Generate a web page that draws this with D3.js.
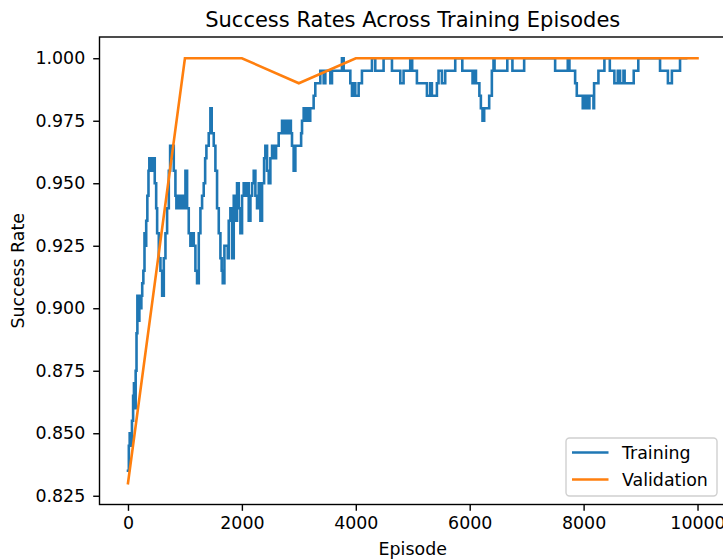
<!DOCTYPE html>
<html>
<head>
<meta charset="utf-8">
<script src="https://cdn.jsdelivr.net/npm/d3@7"></script>
<style>
  html, body { margin: 0; padding: 0; background: #fff; }
  svg { display: block; font-family: "DejaVu Sans", sans-serif; }
</style>
</head>
<body>
<svg id="chart" width="723" height="560"></svg>
<script>
// Training success rate (rolling) — step breakpoints: episode, rate
const trainEpisodes = [
  0, 15, 30, 50, 70, 90, 105, 120, 135, 150, 165, 185, 200, 215, 235, 250, 270, 290, 305, 320,
  340, 360, 375, 395, 410, 430, 450, 470, 495, 512, 541, 570, 600, 629, 658, 687, 717, 740, 758, 780,
  804, 833, 850, 870, 890, 910, 930, 950, 980, 1009, 1038, 1067, 1096, 1130, 1155, 1184, 1213, 1243, 1272, 1301,
  1330, 1355, 1377, 1418, 1447, 1470, 1506, 1535, 1564, 1594, 1623, 1645, 1664, 1693, 1752, 1769, 1798, 1828, 1857, 1886,
  1915, 1945, 1974, 2003, 2032, 2062, 2091, 2120, 2150, 2179, 2208, 2237, 2266, 2296, 2325, 2354, 2390, 2412, 2442, 2471,
  2500, 2530, 2560, 2600, 2646, 2705, 2730, 2760, 2790, 2830, 2860, 2880, 2909, 2939, 3040, 3056, 3085, 3110, 3140, 3180,
  3200, 3260, 3289, 3377, 3436, 3465, 3553, 3582, 3757, 3787, 3904, 3933, 3962, 3991, 4050, 4108, 4284, 4342, 4488, 4635,
  4781, 4839, 4956, 4990, 5073, 5249, 5307, 5336, 5424, 5453, 5512, 5570, 5746, 5870, 6050, 6090, 6110, 6170, 6196, 6225,
  6254, 6342, 6389, 6418, 6436, 6660, 6750, 6956, 7500, 7722, 7751, 7851, 7880, 7985, 8020, 8040, 8070, 8090, 8102, 8173,
  8184, 8260, 8365, 8460, 8540, 8600, 8640, 8700, 8720, 8880, 8960, 9342, 9480, 9550, 9693, 9800
];
const trainRates = [
  0.835, 0.845, 0.85, 0.845, 0.855, 0.865, 0.87, 0.86, 0.875, 0.89, 0.905, 0.895, 0.905, 0.90, 0.905, 0.91, 0.915, 0.93, 0.925, 0.935,
  0.945, 0.955, 0.96, 0.955, 0.96, 0.955, 0.96, 0.95, 0.94, 0.93, 0.92, 0.915, 0.905, 0.92, 0.93, 0.94, 0.955, 0.965, 0.96, 0.965,
  0.955, 0.945, 0.94, 0.945, 0.94, 0.945, 0.94, 0.945, 0.94, 0.955, 0.94, 0.93, 0.925, 0.93, 0.925, 0.915, 0.91, 0.93, 0.94, 0.945,
  0.95, 0.96, 0.965, 0.97, 0.98, 0.97, 0.965, 0.955, 0.94, 0.93, 0.92, 0.915, 0.91, 0.925, 0.92, 0.935, 0.94, 0.92, 0.945, 0.935,
  0.95, 0.94, 0.93, 0.945, 0.95, 0.945, 0.95, 0.935, 0.945, 0.95, 0.955, 0.945, 0.94, 0.95, 0.935, 0.95, 0.96, 0.965, 0.955, 0.95,
  0.96, 0.965, 0.96, 0.965, 0.97, 0.975, 0.97, 0.975, 0.97, 0.975, 0.97, 0.965, 0.955, 0.965, 0.97, 0.975, 0.98, 0.975, 0.98, 0.975,
  0.98, 0.985, 0.99, 0.995, 0.99, 0.995, 0.99, 0.995, 1.0, 0.995, 0.99, 0.985, 0.99, 0.985, 0.99, 0.995, 1.0, 0.995, 1.0, 0.995,
  0.99, 0.995, 1.0, 0.995, 0.99, 0.985, 0.99, 0.985, 0.99, 0.995, 0.99, 0.995, 1.0, 0.995, 0.99, 0.995, 0.99, 0.985, 0.98, 0.975,
  0.98, 0.985, 0.995, 1.0, 0.995, 1.0, 0.995, 1.0, 0.995, 1.0, 0.995, 0.99, 0.985, 0.98, 0.985, 0.98, 0.985, 0.98, 0.985, 0.98,
  0.99, 0.995, 1.0, 0.995, 0.99, 0.995, 0.99, 0.995, 0.99, 0.995, 1.0, 0.995, 0.99, 0.995, 1.0, 1.0
];

// Validation success rate, evaluated every 1000 episodes
const valEpisodes = [0, 1000, 2000, 3000, 4000, 5000, 6000, 7000, 8000, 9000, 10000];
const valRates = [0.83, 1.0, 1.0, 0.99, 1.0, 1.0, 1.0, 1.0, 1.0, 1.0, 1.0];

const xTicks = [0, 2000, 4000, 6000, 8000, 10000];
const yTicks = [0.825, 0.850, 0.875, 0.900, 0.925, 0.950, 0.975, 1.000];

const seriesNames = ["Training", "Validation"];
const colors = ["#1f77b4", "#ff7f0e"];

const svg = d3.select("#chart");
const plot = { left: 99.5, right: 726, top: 37, bottom: 504.5 };

const x = d3.scaleLinear().domain([-500, 10500]).range([plot.left, plot.right]);
const y = d3.scaleLinear().domain([0.8215, 1.0085]).range([plot.bottom, plot.top]);

svg.append("clipPath").attr("id", "plotclip")
  .append("rect")
  .attr("x", plot.left).attr("y", plot.top)
  .attr("width", plot.right - plot.left).attr("height", plot.bottom - plot.top);

const trainData = trainEpisodes.map((e, i) => [e, trainRates[i]]);
const valData = valEpisodes.map((e, i) => [e, valRates[i]]);

const stepLine = d3.line().x(d => x(d[0])).y(d => y(d[1])).curve(d3.curveStepAfter);
const straightLine = d3.line().x(d => x(d[0])).y(d => y(d[1]));

const lineWidth = 2.6;
const g = svg.append("g").attr("clip-path", "url(#plotclip)");
g.append("path").datum(trainData)
  .attr("d", stepLine)
  .attr("fill", "none").attr("stroke", colors[0])
  .attr("stroke-width", lineWidth).attr("stroke-linecap", "square");
g.append("path").datum(valData)
  .attr("d", straightLine)
  .attr("fill", "none").attr("stroke", colors[1])
  .attr("stroke-width", lineWidth).attr("stroke-linecap", "square");

// Axes
const tickLen = 6.3, fontPx = 17.4;

const xAxis = d3.axisBottom(x).tickValues(xTicks).tickFormat(d3.format("d"))
  .tickSize(tickLen).tickPadding(6).tickSizeOuter(0);
const yAxis = d3.axisLeft(y).tickValues(yTicks).tickFormat(d3.format(".3f"))
  .tickSize(tickLen).tickPadding(8).tickSizeOuter(0);

const gx = svg.append("g").attr("transform", `translate(0,${plot.bottom})`).call(xAxis);
const gy = svg.append("g").attr("transform", `translate(${plot.left},0)`).call(yAxis);
[gx, gy].forEach(a => {
  a.select(".domain").remove();
  a.selectAll(".tick line").attr("stroke", "#000").attr("stroke-width", 1.4);
  a.selectAll(".tick text").attr("fill", "#000")
    .style("font-family", "DejaVu Sans").style("font-size", fontPx + "px");
});

// Frame (spines)
svg.append("rect")
  .attr("x", plot.left).attr("y", plot.top)
  .attr("width", plot.right - plot.left).attr("height", plot.bottom - plot.top)
  .attr("fill", "none").attr("stroke", "#000").attr("stroke-width", 1.4);

// Title and axis labels
svg.append("text")
  .attr("x", (plot.left + plot.right) / 2).attr("y", 26.5)
  .attr("text-anchor", "middle")
  .style("font-size", "21px").attr("fill", "#000")
  .text("Success Rates Across Training Episodes");

svg.append("text")
  .attr("x", (plot.left + plot.right) / 2).attr("y", 555)
  .attr("text-anchor", "middle")
  .style("font-size", fontPx + "px").attr("fill", "#000")
  .text("Episode");

svg.append("text")
  .attr("transform", `translate(24,${(plot.top + plot.bottom) / 2}) rotate(-90)`)
  .attr("text-anchor", "middle")
  .style("font-size", fontPx + "px").attr("fill", "#000")
  .text("Success Rate");

// Legend
const legend = svg.append("g");
const lg = { x: 566, y: 438, w: 151, h: 58 };
legend.append("rect")
  .attr("x", lg.x).attr("y", lg.y).attr("width", lg.w).attr("height", lg.h)
  .attr("rx", 3.5).attr("fill", "#fff").attr("fill-opacity", 0.8)
  .attr("stroke", "#d0d0d0").attr("stroke-width", 1.4);
seriesNames.forEach((name, i) => {
  const cy = lg.y + 14.5 + i * 27;
  legend.append("line")
    .attr("x1", lg.x + 6).attr("x2", lg.x + 42.5)
    .attr("y1", cy).attr("y2", cy)
    .attr("stroke", colors[i]).attr("stroke-width", lineWidth);
  legend.append("text")
    .attr("x", lg.x + 56).attr("y", cy).attr("dy", "0.36em")
    .style("font-size", fontPx + "px").attr("fill", "#000")
    .text(name);
});
</script>
</body>
</html>
